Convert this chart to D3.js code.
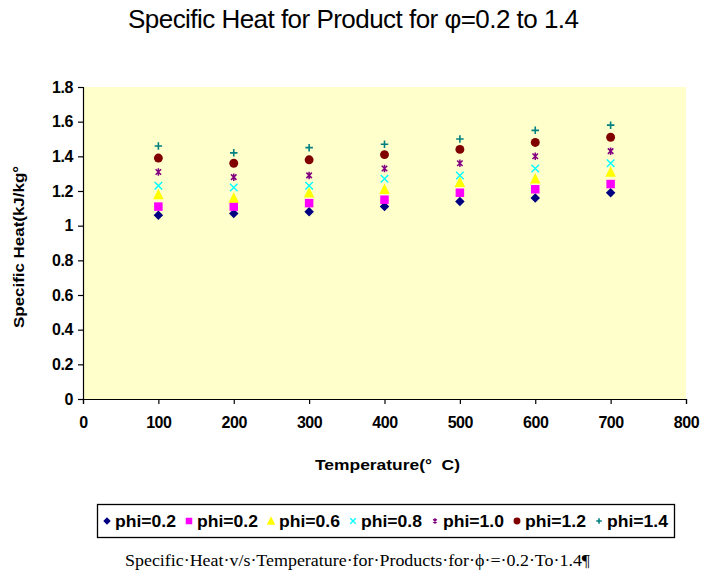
<html lang="en">
<head>
<meta charset="UTF-8">
<title>Specific Heat</title>
<script src="https://d3js.org/d3.v7.min.js"></script>
<style>
  body { margin: 0; background: #fff; }
</style>
</head>
<body>
<svg width="704" height="575"></svg>
<script>
// data
var temps = [100, 200, 300, 400, 500, 600, 700];
var phi02 = [1.06, 1.07, 1.08, 1.11, 1.14, 1.16, 1.19];
var phi02b = [1.11, 1.11, 1.13, 1.15, 1.19, 1.21, 1.24];
var phi06 = [1.18, 1.16, 1.19, 1.21, 1.25, 1.27, 1.31];
var phi08 = [1.23, 1.22, 1.23, 1.27, 1.29, 1.33, 1.36];
var phi10 = [1.31, 1.28, 1.29, 1.33, 1.36, 1.40, 1.43];
var phi12 = [1.39, 1.36, 1.38, 1.41, 1.44, 1.48, 1.51];
var phi14 = [1.46, 1.42, 1.45, 1.47, 1.50, 1.55, 1.58];
var seriesNames = ["phi=0.2", "phi=0.2", "phi=0.6", "phi=0.8", "phi=1.0", "phi=1.2", "phi=1.4"];
var xTicks = [0, 100, 200, 300, 400, 500, 600, 700, 800];
var yTicks = [0, 0.2, 0.4, 0.6, 0.8, 1, 1.2, 1.4, 1.6, 1.8];

var series = [
  { name: seriesNames[0], values: phi02, shape: "diamond", color: "#000080" },
  { name: seriesNames[1], values: phi02b, shape: "square", color: "#ff00ff" },
  { name: seriesNames[2], values: phi06, shape: "triangle", color: "#ffff00" },
  { name: seriesNames[3], values: phi08, shape: "x", color: "#00ffff" },
  { name: seriesNames[4], values: phi10, shape: "star", color: "#800080" },
  { name: seriesNames[5], values: phi12, shape: "circle", color: "#800000" },
  { name: seriesNames[6], values: phi14, shape: "plus", color: "#008080" }
];

var sans = "Liberation Sans, Arial, sans-serif";
var svg = d3.select("svg");
var plotL = 83, plotR = 686, plotT = 87, plotB = 399;

var x = d3.scaleLinear().domain([0, 800]).range([plotL, plotR]);
var y = d3.scaleLinear().domain([0, 1.8]).range([plotB, plotT]);

// marker shapes, s = size in px
function marker(sel, shape, color, s) {
  var h = s / 2;
  if (shape == "diamond") {
    sel.append("path").attr("d", "M0," + (-h) + "L" + h + ",0L0," + h + "L" + (-h) + ",0Z").attr("fill", color);
  } else if (shape == "square") {
    sel.append("rect").attr("x", -h + 0.5).attr("y", -h + 0.5).attr("width", s - 1).attr("height", s - 1).attr("fill", color);
  } else if (shape == "triangle") {
    sel.append("path").attr("d", "M0," + (-h - 1) + "L" + (h + 0.5) + "," + h + "L" + (-h - 0.5) + "," + h + "Z").attr("fill", color);
  } else if (shape == "circle") {
    sel.append("circle").attr("r", h - 0.3).attr("fill", color);
  } else if (shape == "x") {
    var k = h - 1;
    sel.append("path").attr("d", "M" + (-k) + "," + (-k) + "L" + k + "," + k + "M" + (-k) + "," + k + "L" + k + "," + (-k))
      .attr("stroke", color).attr("stroke-width", 1.4).attr("fill", "none");
  } else if (shape == "star") {
    var k2 = h - 2;
    sel.append("path").attr("d", "M" + (-k2) + "," + (-k2) + "L" + k2 + "," + k2 + "M" + (-k2) + "," + k2 + "L" + k2 + "," + (-k2) + "M0," + (-h + 1) + "L0," + (h - 1))
      .attr("stroke", color).attr("stroke-width", 1.5).attr("fill", "none");
  } else if (shape == "plus") {
    var k3 = h - 1;
    sel.append("path").attr("d", "M" + (-k3) + ",0L" + k3 + ",0M0," + (-k3) + "L0," + k3)
      .attr("stroke", color).attr("stroke-width", 1.6).attr("fill", "none");
  }
}

// title
svg.append("text").attr("x", 128).attr("y", 28)
  .attr("font-family", sans).attr("font-size", 26)
  .attr("textLength", 451).attr("lengthAdjust", "spacing")
  .text("Specific Heat for Product for \u03c6=0.2 to 1.4");

// plot background
svg.append("rect").attr("x", plotL).attr("y", plotT).attr("width", plotR - plotL).attr("height", plotB - plotT)
  .attr("fill", "#ffffcc");

// axes
var xAxis = svg.append("g").attr("transform", "translate(0," + plotB + ")")
  .call(d3.axisBottom(x).tickValues(xTicks).tickSize(5).tickPadding(13).tickFormat(d3.format("d")));
var yAxis = svg.append("g").attr("transform", "translate(" + plotL + ",0)")
  .call(d3.axisLeft(y).tickValues(yTicks).tickSize(5).tickPadding(5).tickFormat(function (d) { return d3.format("")(+d.toFixed(1)); }));

[xAxis, yAxis].forEach(function (a) {
  a.select(".domain").attr("stroke", "#000").attr("stroke-width", 1.2);
  a.selectAll(".tick line").attr("stroke", "#000").attr("stroke-width", 1.2);
  a.selectAll(".tick text").attr("font-family", sans)
    .attr("font-size", 16).attr("font-weight", "bold").attr("fill", "#000").attr("letter-spacing", -0.4);
});

// axis titles
svg.append("text").attr("transform", "translate(24,247) rotate(-90)").attr("text-anchor", "middle")
  .attr("font-family", sans).attr("font-size", 15).attr("font-weight", "bold")
  .attr("textLength", 162).attr("lengthAdjust", "spacingAndGlyphs")
  .text("Specific Heat(kJ/kg\u00b0");
svg.append("text").attr("x", 315).attr("y", 470)
  .attr("font-family", sans).attr("font-size", 15).attr("font-weight", "bold")
  .attr("textLength", 145).attr("lengthAdjust", "spacingAndGlyphs")
  .style("white-space", "pre")
  .text("Temperature(\u00b0  C)");

// points
series.forEach(function (s) {
  var g = svg.append("g");
  temps.forEach(function (t, i) {
    var p = g.append("g").attr("transform", "translate(" + x(t) + "," + y(s.values[i]) + ")");
    marker(p, s.shape, s.color, 9.5);
  });
});

// legend
var legend = svg.append("g");
legend.append("rect").attr("x", 97.5).attr("y", 504.5).attr("width", 577).attr("height", 33)
  .attr("fill", "#fff").attr("stroke", "#000").attr("stroke-width", 1.3);
var lx = d3.scalePoint().domain(d3.range(series.length)).range([107, 599]);
series.forEach(function (s, i) {
  var item = legend.append("g").attr("transform", "translate(" + lx(i) + ",521)");
  marker(item, s.shape, s.color, 7.5);
  item.append("text").attr("x", 8).attr("y", 6).attr("font-family", sans).attr("font-size", 17).attr("font-weight", "bold")
    .attr("textLength", 61).attr("lengthAdjust", "spacingAndGlyphs").text(s.name);
});

// caption
svg.append("text").attr("x", 125).attr("y", 566)
  .attr("font-family", "Liberation Serif, Times New Roman, serif").attr("font-size", 16)
  .attr("textLength", 465).attr("lengthAdjust", "spacingAndGlyphs")
  .text("Specific\u00b7Heat\u00b7v/s\u00b7Temperature\u00b7for\u00b7Products\u00b7for\u00b7\u03d5\u00b7=\u00b70.2\u00b7To\u00b71.4\u00b6");
</script>
</body>
</html>
